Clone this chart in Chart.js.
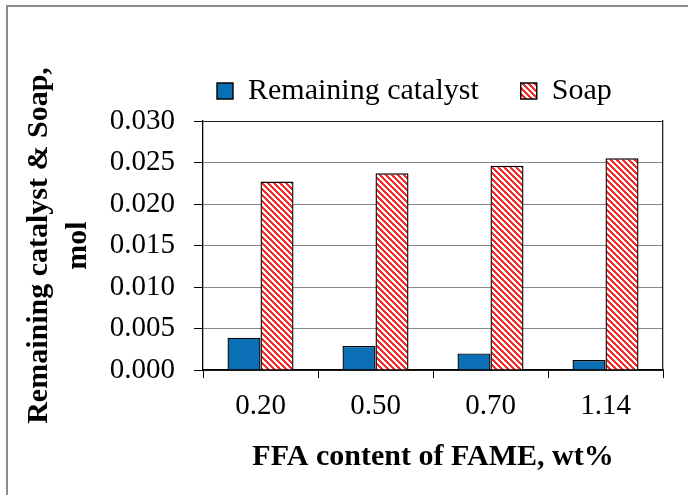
<!DOCTYPE html>
<html>
<head>
<meta charset="utf-8">
<script src="https://cdn.jsdelivr.net/npm/chart.js@4.4.0/dist/chart.umd.min.js"></script>
<style>
    html, body { margin: 0; padding: 0; background: #fff; }
    #wrap { position: relative; width: 688px; height: 495px; overflow: hidden; }
    #wrap canvas { position: absolute; left: 0; top: 0; }
    #frame { position: absolute; left: 6px; top: 5px; right: -4px; bottom: -4px; border-top: 2px solid #8c8c8c; border-left: 2px solid #8c8c8c; pointer-events: none; }
</style>
</head>
<body>
<div id="wrap">
    <canvas id="chart" width="688" height="495"></canvas>
    <div id="frame"></div>
</div>
<script>
// --- Dados ---
const categories = ["0.20", "0.50", "0.70", "1.14"];
const catalyst = [0.0039, 0.0029, 0.0020, 0.0012];
const soap = [0.0227, 0.0237, 0.0246, 0.0255];
const yTicks = [0, 0.005, 0.010, 0.015, 0.020, 0.025, 0.030];

const serif = "'Liberation Serif', 'Times New Roman', serif";

// hachura vermelha diagonal (como no Excel)
function hatchPattern() {
    const c = document.createElement('canvas');
    c.width = c.height = 6;
    const g = c.getContext('2d');
    g.fillStyle = '#ffffff';
    g.fillRect(0, 0, 6, 6);
    g.fillStyle = '#f52a2a';
    for (let y = 0; y < 6; y++) {
        for (let x = 0; x < 6; x++) {
            if ((((x - y) % 6) + 6) % 6 < 3) g.fillRect(x, y, 1, 1);
        }
    }
    return g.createPattern(c, 'repeat');
}

// reposiciona a legenda como no original
const legendShift = {
    id: 'legendShift',
    afterLayout(chart) {
        const lg = chart.legend;
        const w = lg.right - lg.left;
        lg.left = chart.chartArea.left - 28;
        lg.right = lg.left + w;
        lg.top -= 5;
        lg.bottom -= 5;
    }
};

const yMax = yTicks[yTicks.length - 1];

new Chart(document.getElementById('chart'), {
    type: 'bar',
    data: {
        labels: categories,
        datasets: [
            {
                label: 'Remaining catalyst',
                data: catalyst,
                backgroundColor: '#0b6fb6',
                borderColor: '#000',
                borderWidth: 1.4,
                categoryPercentage: 0.574,
                barPercentage: 1
            },
            {
                label: 'Soap',
                data: soap,
                backgroundColor: hatchPattern(),
                borderColor: '#000',
                borderWidth: 1.4,
                categoryPercentage: 0.574,
                barPercentage: 1
            }
        ]
    },
    options: {
        responsive: false,
        animation: false,
        layout: { padding: { top: 39, right: 25, bottom: 0, left: 0 } },
        plugins: {
            legend: {
                position: 'top',
                align: 'start',
                labels: {
                    boxWidth: 16,
                    boxHeight: 16,
                    padding: 42,
                    color: '#000',
                    font: { family: serif, size: 30 }
                }
            },
            tooltip: { enabled: false }
        },
        scales: {
            x: {
                afterFit: (s) => { s.height = 125; },
                grid: { offset: true, drawOnChartArea: false, color: '#000', tickLength: 8 },
                border: { color: '#000', width: 1.3 },
                ticks: { color: '#000', padding: 11, font: { family: serif, size: 29 } },
                title: {
                    display: true,
                    text: 'FFA content of FAME, wt%',
                    color: '#000',
                    padding: { top: 0, bottom: 20 },
                    font: { family: serif, size: 30, weight: 'bold' }
                }
            },
            y: {
                min: 0,
                max: yMax,
                afterFit: (s) => { s.width = 203; },
                afterBuildTicks: (s) => { s.ticks = yTicks.map(v => ({ value: v })); },
                grid: {
                    color: (c) => (c.tick && (Math.abs(c.tick.value - yMax) < 1e-9 || c.tick.value === 0)) ? '#222' : '#888',
                    tickColor: '#000',
                    tickLength: 9,
                    lineWidth: 1
                },
                border: { color: '#000', width: 1.3 },
                ticks: {
                    color: '#000',
                    padding: 19,
                    font: { family: serif, size: 29 },
                    callback: (v) => Number(v).toFixed(3)
                },
                title: {
                    display: true,
                    text: ['Remaining catalyst & Soap,', 'mol'],
                    color: '#000',
                    padding: { top: 20, bottom: 0 },
                    font: { family: serif, size: 30, weight: 'bold', lineHeight: 1.3 }
                }
            },
            y2: {
                position: 'right',
                min: 0,
                max: yMax,
                afterFit: (s) => { s.width = 0; },
                grid: { drawOnChartArea: false, drawTicks: false },
                border: { color: '#222', width: 1.3 },
                ticks: { display: false }
            }
        }
    },
    plugins: [legendShift]
});
</script>
</body>
</html>
